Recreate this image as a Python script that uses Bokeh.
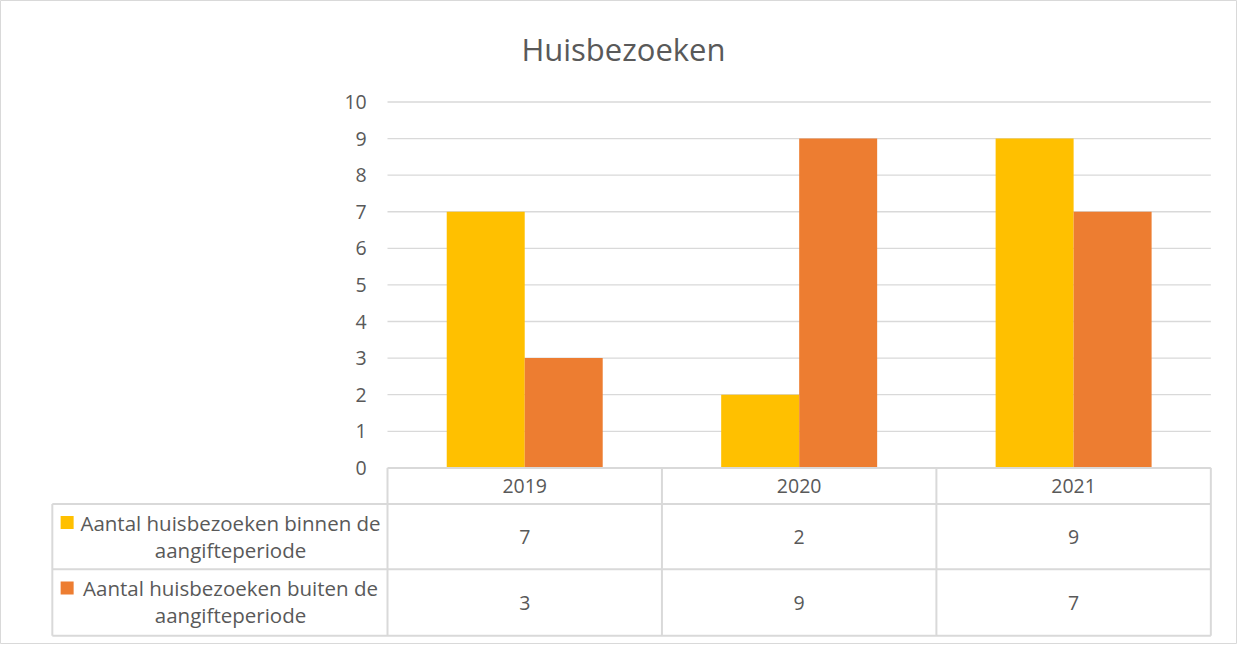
from bokeh.plotting import figure
from bokeh.models import Range1d
from bokeh.core.properties import value
from bokeh.embed import file_html
from bokeh.resources import INLINE

# ---- data ----
years = ["2019", "2020", "2021"]
binnen = [7, 2, 9]
buiten = [3, 9, 7]
series_names = ["Aantal huisbezoeken binnen de aangifteperiode",
                "Aantal huisbezoeken buiten de aangifteperiode"]
series_colors = ["#FFC000", "#ED7D31"]
y_ticks = list(range(0, 11))
title_text = "Huisbezoeken"

# ---- layout ----
W, H = 1237, 644
REF_W, REF_H = 1253, 660   # reference canvas (px)
RX0, RY0 = 392, 479        # reference px of category origin / y=0
RPX, RPY = 278.0, 37.5     # reference px per category / per y unit
FONT = value("Open Sans")
TXT = "#595959"
GRID = "#D9D9D9"
FS = "19.5px"
FS_LAB = "20.5px"

def xd(px):
    return (px - RX0) / RPX

def yd(py):
    return (RY0 - py) / RPY

p = figure(width=W, height=H, output_backend="svg", toolbar_location=None,
           x_range=Range1d(xd(0), xd(REF_W)),
           y_range=Range1d(yd(REF_H), yd(0)),
           min_border=0)
p.axis.visible = False
p.grid.visible = False
p.outline_line_color = GRID
p.outline_line_width = 1
p.background_fill_color = "white"

n = len(years)
# gridlines
gl = [t for t in y_ticks if t > 0]
p.segment(x0=[0] * len(gl), x1=[n] * len(gl), y0=gl, y1=gl, line_color=GRID, line_width=1.3)

# bars
bw = 79 / RPX
xs_c = [i + 0.5 for i in range(n)]
p.vbar(x=[c - bw / 2 for c in xs_c], top=binnen, width=bw, bottom=0,
       fill_color=series_colors[0], line_color=None)
p.vbar(x=[c + bw / 2 for c in xs_c], top=buiten, width=bw, bottom=0,
       fill_color=series_colors[1], line_color=None)

# y tick labels
p.text(x=[xd(371)] * len(y_ticks), y=y_ticks, text=[str(t) for t in y_ticks],
       text_align="right", text_baseline="middle", text_font=FONT,
       text_font_size=FS, text_color=TXT)

# table geometry
tl = xd(52.5)
r_head = yd(516)
r_mid = yd(583)
r_bot = yd(651)
hx0 = [0, tl, tl, tl]
hx1 = [n, n, n, n]
hy = [0, r_head, r_mid, r_bot]
p.segment(x0=hx0, x1=hx1, y0=hy, y1=hy, line_color=GRID, line_width=2)
vx = [tl] + list(range(n + 1))
vy0 = [r_head] + [0] * (n + 1)
p.segment(x0=vx, x1=vx, y0=vy0, y1=[r_bot] * len(vx), line_color=GRID, line_width=2)

# header labels
p.text(x=xs_c, y=[(0 + r_head) / 2] * n, text=years, text_align="center",
       text_baseline="middle", text_font=FONT, text_font_size=FS, text_color=TXT)

# values
row_centers = [(r_head + r_mid) / 2, (r_mid + r_bot) / 2]
for vals, yc in zip([binnen, buiten], row_centers):
    p.text(x=xs_c, y=[yc] * n, text=[str(v) for v in vals], text_align="center",
           text_baseline="middle", text_font=FONT, text_font_size=FS, text_color=TXT)

# row labels with legend keys
line_ys = [(yd(535), yd(563)), (yd(602), yd(630))]
for name, col, (ya, yb) in zip(series_names, series_colors, line_ys):
    words = name.split(" ")
    l1 = " ".join(words[:-1])
    l2 = words[-1]
    p.rect(x=[xd(67.5)], y=[ya], width=13, height=13, width_units="screen",
           height_units="screen", fill_color=col, line_color=None)
    p.text(x=[xd(233)] * 2, y=[ya, yb], text=[l1, l2], text_align="center",
           text_baseline="middle", text_font=FONT, text_font_size=FS_LAB, text_color=TXT)

# title
p.text(x=[xd(631)], y=[yd(50)], text=[title_text], text_align="center",
       text_baseline="middle", text_font=FONT, text_font_size="31px", text_color=TXT)

open("out.html", "w").write(file_html(p, INLINE))
